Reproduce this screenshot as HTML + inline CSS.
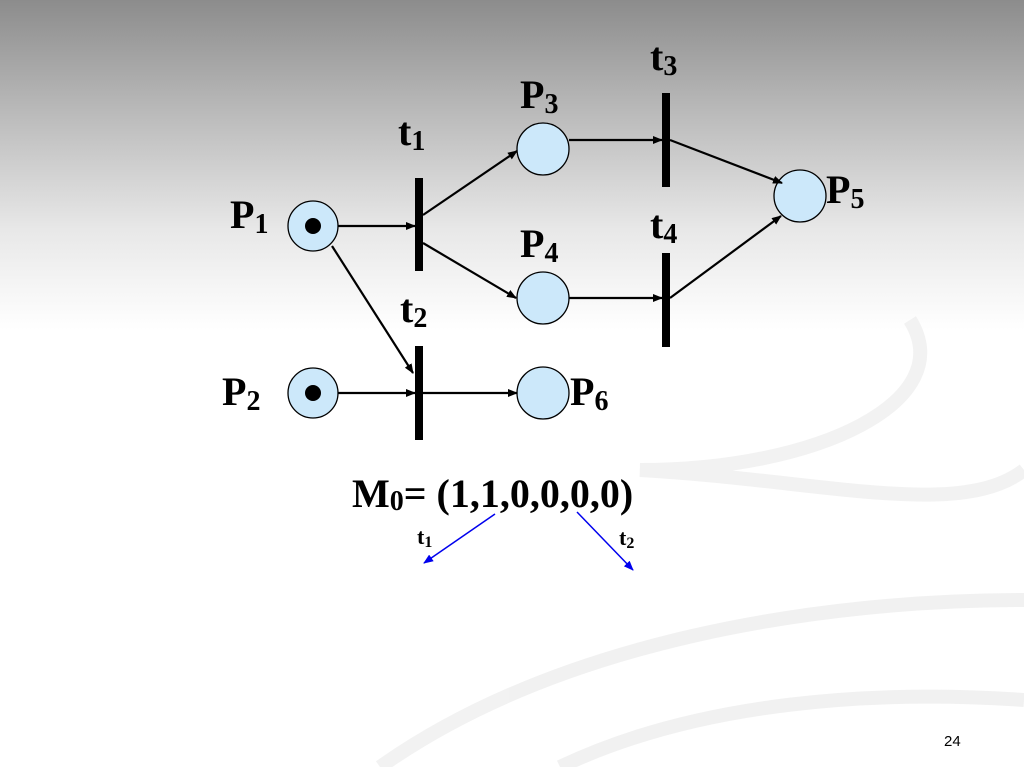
<!DOCTYPE html>
<html><head><style>
body{margin:0;width:1024px;height:767px;overflow:hidden;background:linear-gradient(#8c8c8c 0px,#bdbdbd 120px,#e8e8e8 230px,#fff 330px);font-family:"Liberation Serif",serif}
</style></head><body>
<svg width="1024" height="767" style="position:absolute;left:0;top:0">
<defs><marker id="a" markerWidth="10" markerHeight="8" refX="9" refY="4" orient="auto" markerUnits="userSpaceOnUse"><path d="M0,0L10,4L0,8z" fill="#000"/></marker>
<marker id="b" markerWidth="10" markerHeight="8" refX="9" refY="4" orient="auto" markerUnits="userSpaceOnUse"><path d="M0,0L10,4L0,8z" fill="#0000ee"/></marker></defs>
<g fill="none" stroke="#ececec" stroke-width="14" opacity="0.7">
<path d="M910,320 C960,400 820,470 640,470 C820,480 960,520 1024,470"/>
<path d="M380,767 C560,640 820,600 1024,600"/>
<path d="M560,767 C700,700 880,690 1024,700"/>
</g>
<g fill="#cce8fa" stroke="#000" stroke-width="1.3">
<circle cx="313" cy="226" r="25"/><circle cx="313" cy="393" r="25"/>
<circle cx="543" cy="149" r="26"/><circle cx="543" cy="298" r="26"/>
<circle cx="543" cy="393" r="26"/><circle cx="800" cy="196" r="26"/>
</g>
<circle cx="313" cy="226" r="8"/><circle cx="313" cy="393" r="8"/>
<g fill="#000"><rect x="415" y="178" width="8" height="93"/><rect x="415" y="346" width="8" height="94"/>
<rect x="662" y="93" width="8" height="94"/><rect x="662" y="253" width="8" height="94"/></g>
<g stroke="#000" stroke-width="2.2" marker-end="url(#a)">
<line x1="338" y1="226" x2="415" y2="226"/>
<line x1="423" y1="215" x2="517" y2="151"/>
<line x1="423" y1="243" x2="516" y2="298"/>
<line x1="332" y1="246" x2="413" y2="373"/>
<line x1="338" y1="393" x2="415" y2="393"/>
<line x1="423" y1="393" x2="517" y2="393"/>
<line x1="569" y1="140" x2="662" y2="140"/>
<line x1="569" y1="298" x2="662" y2="298"/>
<line x1="670" y1="140" x2="782" y2="183"/>
<line x1="670" y1="298" x2="781" y2="216"/>
</g>
<g stroke="#0000ee" stroke-width="1.5" marker-end="url(#b)">
<line x1="495" y1="514" x2="424" y2="563"/>
<line x1="577" y1="512" x2="633" y2="570"/>
</g>
<g font-family="Liberation Serif" font-weight="bold" font-size="40">
<text x="230" y="228">P<tspan font-size="28" dy="5">1</tspan></text>
<text x="222" y="405">P<tspan font-size="28" dy="5">2</tspan></text>
<text x="520" y="108">P<tspan font-size="28" dy="5">3</tspan></text>
<text x="520" y="257">P<tspan font-size="28" dy="5">4</tspan></text>
<text x="826" y="203">P<tspan font-size="28" dy="5">5</tspan></text>
<text x="570" y="405">P<tspan font-size="28" dy="5">6</tspan></text>
<text x="398" y="145">t<tspan font-size="28" dy="5">1</tspan></text>
<text x="400" y="322">t<tspan font-size="28" dy="5">2</tspan></text>
<text x="650" y="70">t<tspan font-size="28" dy="5">3</tspan></text>
<text x="650" y="238">t<tspan font-size="28" dy="5">4</tspan></text>
<text x="352" y="507">M<tspan font-size="28" dy="3">0</tspan><tspan dy="-3">= (1,1,0,0,0,0)</tspan></text>
</g>
<g font-family="Liberation Serif" font-weight="bold" font-size="22">
<text x="417" y="544">t<tspan font-size="16" dy="3">1</tspan></text>
<text x="619" y="545">t<tspan font-size="16" dy="3">2</tspan></text>
</g>
<text x="944" y="746" font-family="Liberation Sans" font-size="15">24</text>
</svg>
</body></html>
